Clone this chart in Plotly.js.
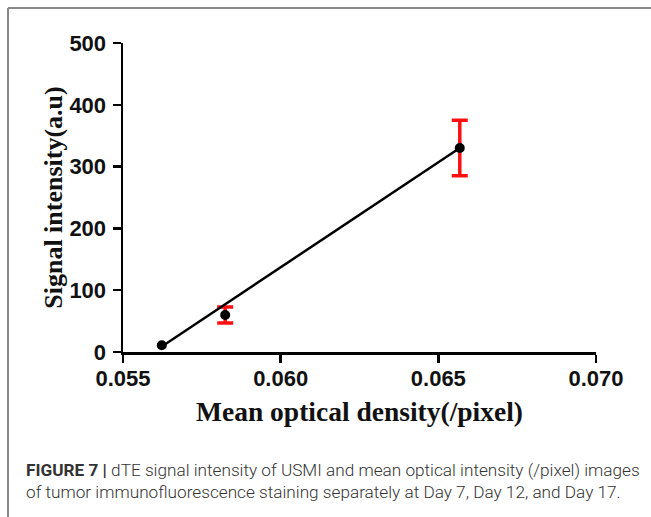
<!DOCTYPE html>
<html>
<head>
<meta charset="utf-8">
<script src="https://cdn.plot.ly/plotly-3.0.1.min.js"></script>
<style>
  html, body { margin: 0; padding: 0; background: #fff; }
  #chart { width: 651px; height: 517px; }
</style>
</head>
<body>
<div id="chart"></div>
<script>
// Data
const opticalDensity = [0.05623, 0.05824, 0.06568];
const signalIntensity = [11, 60, 330];
const signalError = [0, 13, 45];
const fitX = [0.05623, 0.06568];
const fitY = [9, 330];
const xTickVals = [0.055, 0.060, 0.065, 0.070];
const xTickText = ["0.055", "0.060", "0.065", "0.070"];
const yTickVals = [0, 100, 200, 300, 400, 500];

const W = 651, H = 517;
const M = { l: 123, r: 55, t: 43, b: 165 };
const pw = W - M.l - M.r, ph = H - M.t - M.b;
const px = v => (v - M.l) / pw;
const py = v => (H - M.b - v) / ph;

// only points with a visible spread get an error bar
const errIdx = signalError.map((e, i) => i).filter(i => signalError[i] > 0);

const traces = [
  {
    x: errIdx.map(i => opticalDensity[i]), y: errIdx.map(i => signalIntensity[i]),
    type: 'scatter', mode: 'markers',
    marker: { size: 1, color: 'rgba(0,0,0,0)' },
    error_y: { type: 'data', array: errIdx.map(i => signalError[i]), visible: true, color: '#ff1010', thickness: 3.5, width: 8 },
    cliponaxis: false, showlegend: false, hoverinfo: 'skip'
  },
  {
    x: fitX, y: fitY, type: 'scatter', mode: 'lines',
    line: { color: '#000', width: 2.5 }, cliponaxis: false, showlegend: false
  },
  {
    x: opticalDensity, y: signalIntensity, type: 'scatter', mode: 'markers',
    marker: { size: 10, color: '#000' }, cliponaxis: false, showlegend: false
  }
];

const serifFam = 'Liberation Serif, Times New Roman, serif';
const tickFont = { family: 'Liberation Sans, Arial, sans-serif', size: 22, color: '#111', weight: 'bold' };

const layout = {
  width: W, height: H,
  margin: M,
  paper_bgcolor: '#fff', plot_bgcolor: '#fff',
  xaxis: {
    range: [0.055, 0.070], tickvals: xTickVals, ticktext: xTickText,
    showgrid: false, zeroline: false, showline: true, linecolor: '#000', linewidth: 2.5,
    ticks: 'outside', ticklen: 8, tickwidth: 2.5, tickcolor: '#000',
    tickfont: tickFont, ticklabelstandoff: -3,
    title: { text: 'Mean optical density(/pixel)', font: { family: serifFam, size: 27.5, color: '#111', weight: 'bold' }, standoff: 12 }
  },
  yaxis: {
    range: [0, 500], tickvals: yTickVals,
    showgrid: false, zeroline: false, showline: true, linecolor: '#000', linewidth: 2.5,
    ticks: 'outside', ticklen: 8, tickwidth: 2.5, tickcolor: '#000',
    tickfont: tickFont, ticklabelstandoff: 2,
    title: { text: 'Signal intensity(a.u)', font: { family: serifFam, size: 26, color: '#111', weight: 'bold' }, standoff: 0 }
  },
  shapes: [
    { type: 'line', xref: 'paper', yref: 'paper', x0: px(8), x1: px(8), y0: py(8), y1: py(517), line: { color: '#888', width: 2 } },
    { type: 'line', xref: 'paper', yref: 'paper', x0: px(8), x1: px(651), y0: py(8), y1: py(8), line: { color: '#888', width: 2 } }
  ],
  annotations: [
    {
      xref: 'paper', yref: 'paper', x: px(24), y: py(481), xanchor: 'left', yanchor: 'middle',
      align: 'left', showarrow: false,
      text: '<b>FIGURE 7 |</b> dTE signal intensity of USMI and mean optical intensity (/pixel) images<br>of tumor immunofluorescence staining separately at Day 7, Day 12, and Day 17.',
      font: { family: 'Roboto, Liberation Sans, sans-serif', size: 17.2, color: '#333', weight: 300 }
    }
  ]
};

Plotly.newPlot('chart', traces, layout, { displayModeBar: false, staticPlot: true });
</script>
</body>
</html>
